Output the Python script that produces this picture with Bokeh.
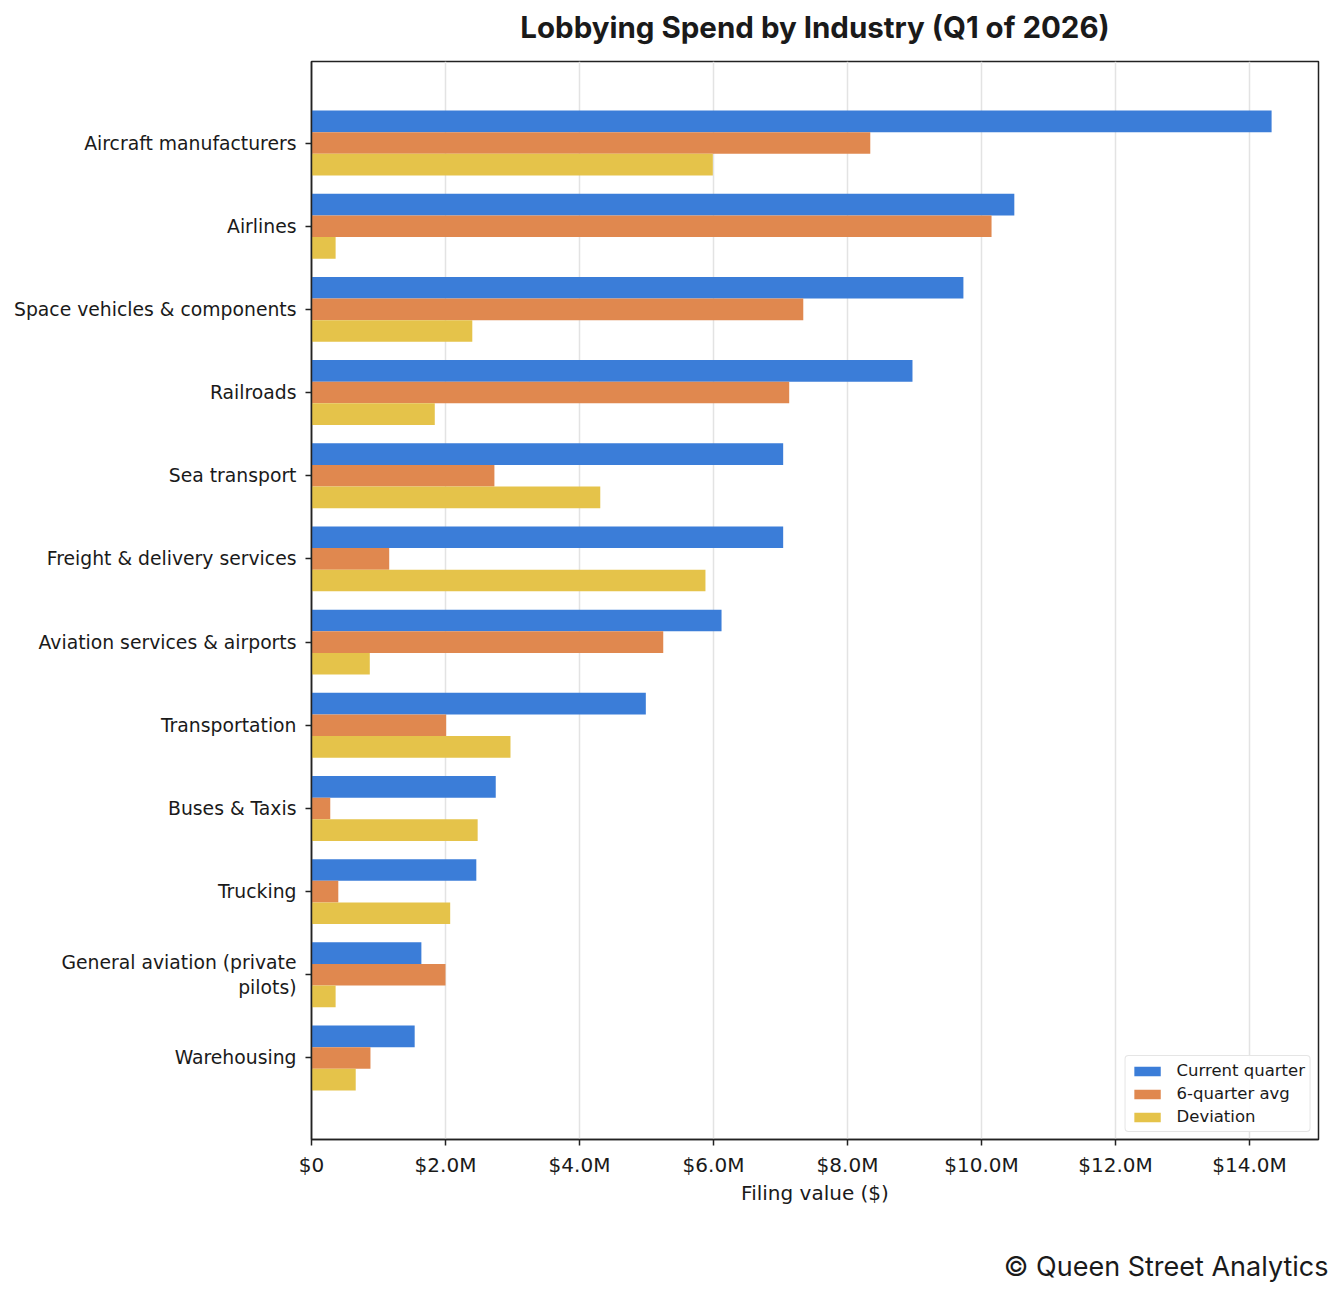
from bokeh.plotting import figure
from bokeh.models import ColumnDataSource, FixedTicker, Range1d, Legend, LegendItem, Title
from bokeh.embed import file_html
from bokeh.resources import INLINE

industries = [
    "Aircraft manufacturers",
    "Airlines",
    "Space vehicles & components",
    "Railroads",
    "Sea transport",
    "Freight & delivery services",
    "Aviation services & airports",
    "Transportation",
    "Buses & Taxis",
    "Trucking",
    "General aviation (private\npilots)",
    "Warehousing",
]
current_quarter = [14.33, 10.49, 9.73, 8.97, 7.04, 7.04, 6.12, 4.99, 2.75, 2.46, 1.64, 1.54]
six_quarter_avg = [8.34, 10.15, 7.34, 7.13, 2.73, 1.16, 5.25, 2.01, 0.28, 0.40, 2.00, 0.88]
deviation = [5.99, 0.36, 2.40, 1.84, 4.31, 5.88, 0.87, 2.97, 2.48, 2.07, 0.36, 0.66]

x_tick_values = [0, 2, 4, 6, 8, 10, 12, 14]
x_tick_labels = ["$0", "$2.0M", "$4.0M", "$6.0M", "$8.0M", "$10.0M", "$12.0M", "$14.0M"]

series_names = ["Current quarter", "6-quarter avg", "Deviation"]
series_colors = ["#3b7dd8", "#e0884f", "#e5c34a"]

n = len(industries)
ypos = [n - 1 - i for i in range(n)]
bar_h = 0.26
offsets = [bar_h, 0.0, -bar_h]

p = figure(
    frame_width=1007, frame_height=1078,
    output_backend="svg", toolbar_location=None,
    x_range=Range1d(0, 15.03), y_range=Range1d(-0.98, n - 1 + 0.98),
    min_border_left=311, min_border_right=18, min_border_top=61, min_border_bottom=149,
)

items = []
for vals, name, color, off in zip([current_quarter, six_quarter_avg, deviation], series_names, series_colors, offsets):
    src = ColumnDataSource(dict(y=[yy + off for yy in ypos], right=vals))
    r = p.hbar(y="y", left=0, right="right", height=bar_h, source=src,
               fill_color=color, line_color=None)
    items.append(LegendItem(label=name, renderers=[r]))

legend = Legend(items=items, location="bottom_right")
legend.label_text_font = "DejaVu Sans"
legend.label_text_font_size = "16.5px"
legend.label_text_color = "#1a1a1a"
legend.glyph_width = 33
legend.glyph_height = 12
legend.label_height = 19
legend.spacing = 4
legend.padding = 5
legend.margin = 7
legend.border_line_color = "#cccccc"
legend.border_line_width = 1.5
legend.border_radius = 4
legend.background_fill_alpha = 0.9
legend.label_standoff = 13
p.add_layout(legend, "center")

# axes
p.xaxis.ticker = FixedTicker(ticks=x_tick_values)
p.xaxis.major_label_overrides = {v: l for v, l in zip(x_tick_values, x_tick_labels)}
p.xaxis.axis_label = "Filing value ($)"
p.yaxis.ticker = FixedTicker(ticks=ypos)
p.yaxis.major_label_overrides = {yy: lab for yy, lab in zip(ypos, industries)}

for ax in [p.xaxis[0], p.yaxis[0]]:
    ax.major_label_text_font = "DejaVu Sans"
    ax.major_label_text_color = "#1a1a1a"
    ax.axis_label_text_font = "DejaVu Sans"
    ax.axis_label_text_font_size = "20px"
    ax.axis_label_text_font_style = "normal"
    ax.axis_label_text_color = "#1a1a1a"
    ax.axis_line_color = "#222222"
    ax.axis_line_width = 1.5
    ax.major_tick_line_color = "#222222"
    ax.major_tick_line_width = 1.5
    ax.major_tick_out = 6
    ax.major_tick_in = 0
    ax.minor_tick_line_color = None
p.xaxis.major_label_text_font_size = "20px"
p.yaxis.major_label_text_font_size = "18.8px"
p.xaxis.major_label_standoff = 7
p.xaxis.axis_label_standoff = 1
p.yaxis.major_label_standoff = 9

p.xgrid.grid_line_color = "#e3e3e3"
p.xgrid.grid_line_width = 1.5
p.ygrid.grid_line_color = None
p.outline_line_color = "#222222"
p.outline_line_width = 1.5
p.outline_line_alpha = 1.0

# title (spacer keeps it off the frame while staying inside the top border)
top_spacer = Title(text=" ", text_font_size="1px", standoff=14, align="center")
main_title = Title(text="Lobbying Spend by Industry (Q1 of 2026)", align="center",
                   standoff=0, text_font="Inter", text_font_size="29.5px",
                   text_font_style="bold", text_color="#1a1a1a")
p.add_layout(top_spacer, "above")
p.add_layout(main_title, "above")

bottom_spacer = Title(text=" ", text_font_size="1px", standoff=37, align="right")
footer = Title(text="© Queen Street Analytics", align="right", offset=-10, standoff=0,
               text_font="Inter", text_font_size="27px", text_font_style="normal",
               text_color="#1a1a1a")
p.add_layout(bottom_spacer, "below")
p.add_layout(footer, "below")

open("out.html", "w").write(file_html(p, INLINE))
